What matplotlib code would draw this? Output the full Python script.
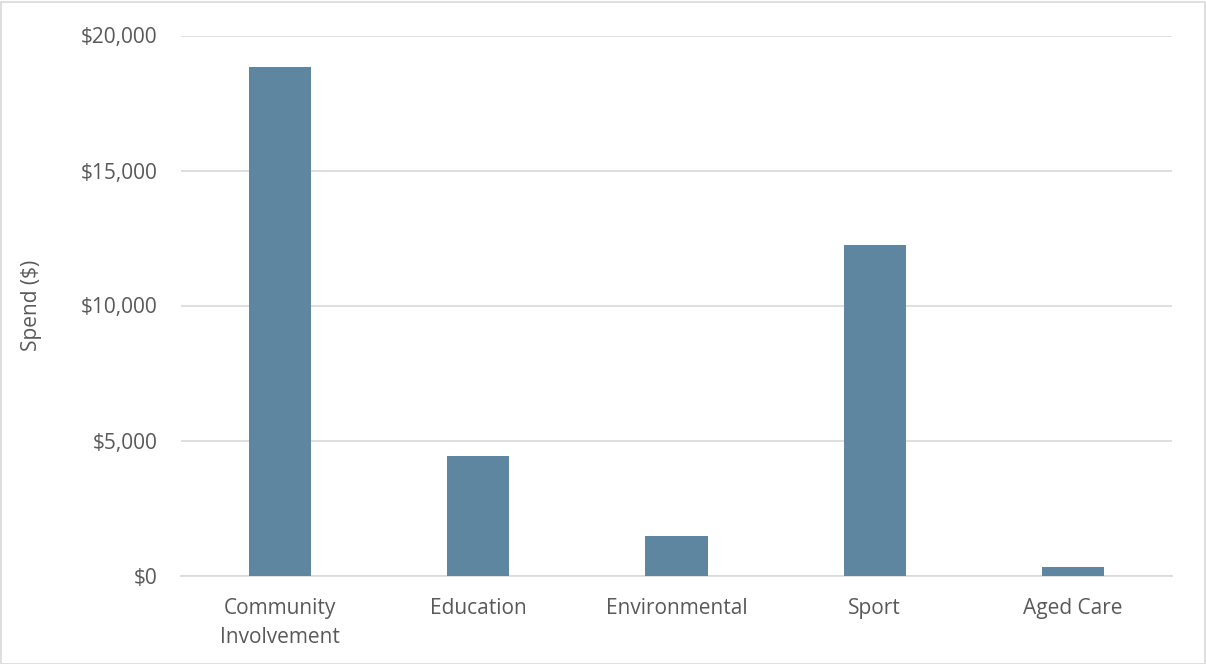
import matplotlib
matplotlib.use("Agg")
import matplotlib.pyplot as plt
from matplotlib.ticker import FuncFormatter
from matplotlib.patches import Rectangle

categories = ["Community\nInvolvement", "Education", "Environmental", "Sport", "Aged Care"]
spend = [18830, 4420, 1460, 12230, 300]
yticks = [0, 5000, 10000, 15000, 20000]

plt.rcParams['font.family'] = ['Open Sans', 'DejaVu Sans']

W, H = 1206, 664
fig = plt.figure(figsize=(W/100, H/100), dpi=100)
fig.patches.append(Rectangle((0.5/W, 0.5/H), 1 - 2/W, 1 - 2/H, transform=fig.transFigure,
                             fill=False, edgecolor="#d9d9d9", linewidth=1.2))

left, right, top, bottom = 181, 1172, 35.5, 575.5
ax = fig.add_axes([left/W, 1 - bottom/H, (right-left)/W, (bottom-top)/H])

x = range(len(categories))
ax.bar(x, spend, width=0.313, color="#5F86A0", zorder=3)
ax.set_xlim(-0.5, len(categories) - 0.5)
ax.set_ylim(0, 20000)
ax.set_yticks(yticks)
ax.yaxis.set_major_formatter(FuncFormatter(lambda v, p: f"${v:,.0f}"))
ax.grid(axis="y", color="#d9d9d9", linewidth=1.2, zorder=0)
for s in ["top", "right", "left"]:
    ax.spines[s].set_visible(False)
ax.spines["bottom"].set_color("#d9d9d9")
ax.spines["bottom"].set_linewidth(1.2)
ax.set_xticks(list(x))
ax.set_xticklabels(categories, linespacing=1.5)
ax.tick_params(axis="both", length=0, labelsize=15, labelcolor="#595959")
ax.tick_params(axis="x", pad=16)
ax.tick_params(axis="y", pad=17)
ax.set_ylabel("Spend ($)", fontsize=15, color="#595959", labelpad=28)

fig.savefig("out.png", dpi=100)
